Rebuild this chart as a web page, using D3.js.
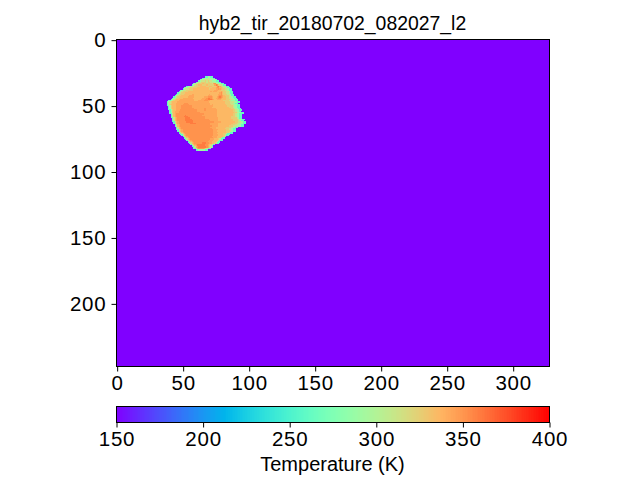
<!DOCTYPE html>
<html><head><meta charset="utf-8">
<script src="https://cdn.jsdelivr.net/npm/d3@7"></script>
<style>html,body{margin:0;background:#fff}svg{display:block}text{font-family:"Liberation Sans",Arial,sans-serif;fill:#000}</style>
</head><body><div id="c"></div>
<script>
const titleText = "hyb2_tir_20180702_082027_l2";
const colorbarLabel = "Temperature (K)";
const imageWidth = 328, imageHeight = 248;
const background = 150;
const xTicks = [0,50,100,150,200,250,300];
const yTicks = [0,50,100,150,200];
const cbTicks = [150,200,250,300,350,400];
const tempCodes = {a:262,b:292,c:312,d:326,e:336,f:344,g:351,h:360};
const firstRow = 28;
const rowStarts = [67,65,63,62,60,58,57,53,51,50,48,47,46,45,44,43,42,41,39,38,38,38,39,39,39,40,40,40,41,41,41,42,42,42,43,43,44,44,45,45,46,46,47,48,49,50,51,52,53,54,55,56,57,58,58,60];
const rowCodes = [
"aabbaa","abbbcbbba","abbccccbbbbba","abcccdcdccbbbaa","abccddddcddcccbbbaa",
"abccdddeddddddcfgcbbbaa","abcddeeedddedddddfhgdccbaa","abbbccddddeeeeeddeedddeghfdccbaa",
"abbccdddddeeeeeeeeeddeeefggeedccbaa","abcccdddeeeeeeeeeeeedeeeeffgfeddccbaa",
"abcccdddddeeeeeeeeeeeeeeeefffeedddccbaa","abcddddeeeeeeeeeeeeeeeeefefffeeefeddccbaa",
"abcdddeeeeeeeeeeeeeeeeeeeeeeeeeefgeddccbaa","abcdddeeeeeeffeeeeeeeeeeefeeeeeeffgedddccbaa",
"abcddeeeeeeffffeeeeeeeeeefffeeeeefggfedddcbaa","abcddeeeeeefffffeeeeeeefffgggfeeefghgfeeddccbaa",
"abcddeeeffffffffeeeeeeefffghhgfeeffggfeeeddccbbaa","abcdeeefffffffffffeeeeefffgghhhgfeefffeeeedddccbbaa",
"aabcdeeeffffffffffffeeeffffgggffeeeeeeeeeeddddccbbbaa","abcdeeeeffffffffffffffffffffffffeeeeeeeeeeeeddddcccbbaa",
"abcdeeeffffffgggfffffffffffffffffeeeeeeeeeeeddddccbbaa","abdeeeefffffgggggffffffffffffffffefeeeeeeeeeeddddccbbaa",
"abdeeeffffggggggggffffffffffffffffeeeeeeeeeeeddddcbbaa","abdeeeffffggggggggfffffffffffffffeeeeeeeeeeeeedddcbbaa",
"abdeeeffffggggggggggfffffffggfffffffeeeeeeeeeeeeddcbbaa","abdeefffgggggggggggggfffffggffffffffeeeeeeeeeeeeddcbbaa",
"abdefffggggggggggggggfffffffffffffffeeeeeeeeeeeeddcbba","abdefffggggggggggggggggfffffffffffffeeeeeeeeeeeeeddcbbaa",
"acefgggggggggggggggggggggffffffffffeeeeeeeeeeeeddcbbaa","acefggggggghggggggggggggfffffffffffeeeeeeeeeeeeddcbbaa",
"acefgggggghhhgggggggggggggfffffffffeeeeeeeeeeedddcbbaa","acefgggggghhhhgggggggggggffffffffffeeeeeeeeeeddddcbaa",
"acefgggggghhhhhgggggggggggggfffffffeeeeeeeeeeeddddcbbaa","acefgggggghhhhhhgggggggggggggffffffeeeeeeeeeeeddddcbaa",
"acefgggggghhhhhggggggggggggggggfffffeeeeeeeeeeeddccbbaa","acefggggggggghhhhgggggggggggffffffeeeeeeeeeeedddccbbbaa",
"acefgggggggggggggggggggggggffffffeeeeeeeeeedddccbbaa","acefggggggggggggggggggggggggfffffeeeeeeeedddcccbbbaa",
"acefggggggggggggggggggggggffffeeeeeeeeddddcbbaa","acefgggggggggggggggggggggggfffeeeeeeedddccbaa",
"acefgggggggggggggggggggggggffffeeeeeeddccbaa","acefgggggggggggggggggggggggfffeeeeeeedddcbaa",
"acefggggggggggggggggggggggffffeeeeeeddcaa","acefgggggggggggggggggggggfffeeeeeddcaa",
"acefggggggggggggggggggggffffeeeedcaa","acefggggggggggggggggggffffeeeeeda",
"acefggggggggggggggggggfffeeedaa","acefgggggggggggggggfffeeedca",
"acefgggggggggggggfffeeedcaa","acefgggggggggggfffeeedca",
"acefgggggghhhggffeedca","acefghhhhhhggfedca",
"acefhhhhhhggfdca","acfghhhhhhgfdca","aacfggggfdcaa","aabbbbbaa"
];
const rainbow = t => {
  const r = Math.min(1, Math.abs(2*t-0.5)), g = Math.sin(Math.PI*t), b = Math.cos(Math.PI*t/2);
  return `rgb(${Math.round(r*255)},${Math.round(g*255)},${Math.round(b*255)})`;
};
const color = d3.scaleSequential(rainbow).domain([150,400]);

const svg = d3.select("#c").append("svg").attr("width",640).attr("height",480);
const x = d3.scaleLinear().domain([-0.5,imageWidth-0.5]).range([116.5,549.5]);
const y = d3.scaleLinear().domain([-0.5,imageHeight-0.5]).range([39.5,366.5]);

svg.append("rect").attr("x",x(-0.5)).attr("y",y(-0.5)).attr("width",x(imageWidth-0.5)-x(-0.5)).attr("height",y(imageHeight-0.5)-y(-0.5)).attr("fill",color(background));

const cells = [];
rowCodes.forEach((s,i)=>{[...s].forEach((c,j)=>cells.push({col:rowStarts[i]+j,row:firstRow+i,v:tempCodes[c]}));});
svg.append("g").attr("shape-rendering","crispEdges").selectAll("rect").data(cells).join("rect")
  .attr("x",d=>x(d.col-0.5)).attr("y",d=>y(d.row-0.5))
  .attr("width",x(1)-x(0)+0.4).attr("height",y(1)-y(0)+0.4).attr("fill",d=>color(d.v));

function styleAxis(g,size){
  g.selectAll("text").style("font-size",size+"px").style("letter-spacing","0.8px").style("font-family",'"Liberation Sans",Arial,sans-serif');
  g.selectAll("line").attr("stroke","#000").attr("stroke-width",1);
  g.select(".domain").remove();
}
svg.append("g").attr("transform",`translate(0,${y(imageHeight-0.5)})`)
  .call(d3.axisBottom(x).tickValues(xTicks).tickSize(5).tickPadding(4).tickFormat(d3.format("d"))).call(styleAxis,20.5);
svg.append("g").attr("transform",`translate(${x(-0.5)},0)`)
  .call(d3.axisLeft(y).tickValues(yTicks).tickSize(5).tickPadding(5).tickFormat(d3.format("d"))).call(styleAxis,20.5);
svg.append("rect").attr("x",x(-0.5)).attr("y",y(-0.5)).attr("width",x(imageWidth-0.5)-x(-0.5)).attr("height",y(imageHeight-0.5)-y(-0.5)).attr("fill","none").attr("stroke","#000").attr("stroke-width",1);

svg.append("text").attr("x",332.5).attr("y",30).attr("text-anchor","middle").style("font-size","19.4px").text(titleText);

// colorbar
const cbX = d3.scaleLinear().domain([150,400]).range([116.5,549.5]);
const cbTop = 406.5, cbBottom = 422.5;
svg.append("g").attr("shape-rendering","crispEdges").selectAll("rect").data(d3.range(0,256)).join("rect")
  .attr("x",i=>cbX(150+i*250/256)).attr("y",cbTop).attr("width",433/256+0.6).attr("height",cbBottom-cbTop)
  .attr("fill",i=>color(150+(i+0.5)*250/256));
svg.append("rect").attr("x",cbX(150)).attr("y",cbTop).attr("width",433).attr("height",cbBottom-cbTop).attr("fill","none").attr("stroke","#000").attr("stroke-width",1);
svg.append("g").attr("transform",`translate(0,${cbBottom})`)
  .call(d3.axisBottom(cbX).tickValues(cbTicks).tickSize(5).tickPadding(4).tickFormat(d3.format("d"))).call(styleAxis,20.5);
svg.append("text").attr("x",332.5).attr("y",471).attr("text-anchor","middle").style("font-size","20px").text(colorbarLabel);
</script></body></html>
